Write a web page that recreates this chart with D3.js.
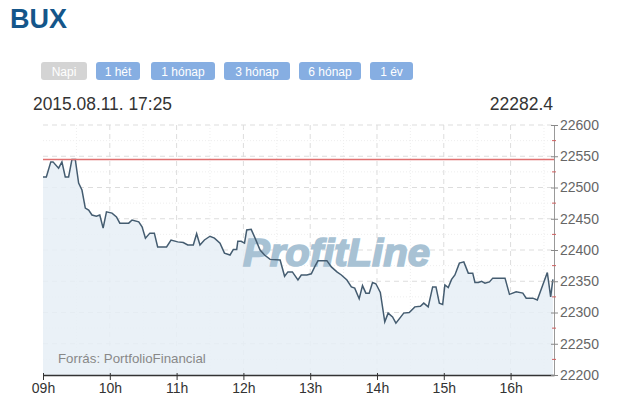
<!DOCTYPE html>
<html>
<head>
<meta charset="utf-8">
<script src="https://cdn.jsdelivr.net/npm/d3@7"></script>
<style>
  body { margin: 0; background: #fff; font-family: Arial, "Liberation Sans", sans-serif; }
  svg { display: block; }
</style>
</head>
<body>
<svg id="chart" width="621" height="413"></svg>
<script>
// Adatok
var times = ['09:00','09:03','09:07','09:09','09:14','09:17','09:20','09:23','09:26','09:29',
  '09:32','09:35','09:38','09:41','09:44','09:48','09:51','09:54','09:57','10:02',
  '10:06','10:09','10:17','10:20','10:26','10:29','10:32','10:36','10:40','10:43',
  '10:51','10:55','11:01','11:06','11:10','11:15','11:18','11:21','11:25','11:30',
  '11:34','11:39','11:43','11:48','11:51','11:54','11:55','11:58','12:01','12:03',
  '12:07','12:10','12:15','12:19','12:24','12:33','12:37','12:40','12:44','12:49',
  '12:52','12:57','13:01','13:04','13:07','13:15','13:19','13:24','13:28','13:33',
  '13:37','13:40','13:44','13:47','13:50','13:53','13:56','13:59','14:03','14:07',
  '14:10','14:14','14:17','14:24','14:29','14:34','14:39','14:42','14:46','14:50',
  '14:53','14:56','14:59','15:01','15:04','15:07','15:10','15:14','15:18','15:22',
  '15:26','15:28','15:31','15:34','15:37','15:41','15:44','15:55','15:59','16:05',
  '16:11','16:14','16:20','16:24','16:33','16:36','16:38']
var values = [22517,22517,22541,22541,22531,22541,22517,22517,22545,22545,
  22507,22496,22467,22464,22456,22454,22456,22435,22461,22459,
  22453,22443,22443,22448,22445,22437,22419,22427,22427,22405,
  22405,22416,22413,22412,22408,22408,22426,22408,22416,22422,
  22419,22411,22395,22392,22401,22401,22414,22414,22411,22432,
  22433,22421,22400,22392,22385,22384,22358,22365,22365,22352,
  22360,22360,22362,22373,22383,22383,22373,22365,22360,22352,
  22341,22339,22322,22343,22331,22331,22348,22346,22332,22285,
  22299,22293,22283,22299,22300,22309,22310,22315,22309,22341,
  22341,22315,22313,22344,22340,22353,22360,22379,22381,22363,
  22363,22348,22348,22350,22347,22349,22355,22355,22329,22333,
  22331,22323,22323,22320,22364,22325,22353]
var elozoZaro = 22545
var yTicks = [22200,22250,22300,22350,22400,22450,22500,22550,22600]
var gombok = ['Napi','1 hét','1 hónap','3 hónap','6 hónap','1 év']
var datum = '2015.08.11. 17:25'
var utolso = '22282.4'

var parseTime = d3.timeParse('%Y-%m-%d %H:%M')
var data = times.map(function(t, i) { return { t: parseTime('2015-08-11 ' + t), v: values[i] } })

var svg = d3.select('#chart')

// Cim
svg.append('text').attr('x', 10).attr('y', 28)
  .attr('font-size', '27px').attr('font-weight', 'bold').attr('fill', '#14568a')
  .text('BUX')

// Gombok
var gombX = [41, 96, 151, 224, 299, 370]
var gombW = [46, 44, 64, 66, 62, 43]
gombok.forEach(function(g, i) {
  var gg = svg.append('g').attr('transform', 'translate(' + gombX[i] + ',62)')
  gg.append('rect').attr('width', gombW[i]).attr('height', 18).attr('rx', 3)
    .attr('fill', i === 0 ? '#d4d4d4' : '#86aee2')
  gg.append('text').attr('x', gombW[i] / 2).attr('y', 13.5).attr('text-anchor', 'middle')
    .attr('font-size', '12px').attr('fill', '#fff').text(g)
})

// Datum es utolso ertek
svg.append('text').attr('x', 33).attr('y', 110).attr('font-size', '18px').attr('fill', '#333')
  .attr('textLength', 139).attr('lengthAdjust', 'spacingAndGlyphs').text(datum)
svg.append('text').attr('x', 553).attr('y', 110).attr('text-anchor', 'end')
  .attr('font-size', '17.5px').attr('fill', '#333').text(utolso)

// Meretek
var margen = { izq: 43, sup: 125, der: 621 - 554, inf: 413 - 375 }
var ancho = 621 - margen.izq - margen.der
var alto = 413 - margen.sup - margen.inf

var x = d3.scaleTime()
  .domain([parseTime('2015-08-11 09:00'), parseTime('2015-08-11 16:39')])
  .range([0, ancho])
var y = d3.scaleLinear().domain([22200, 22600]).range([alto, 0])

var g = svg.append('g').attr('transform', 'translate(' + margen.izq + ',' + margen.sup + ')')

// Racsvonalak
var minorY = d3.range(22225, 22600, 50)
g.selectAll('.gyMinor').data(minorY).enter().append('line')
  .attr('x1', 0).attr('x2', ancho).attr('y1', d => y(d)).attr('y2', d => y(d))
  .attr('stroke', '#eeeeee').attr('stroke-dasharray', '1,2')
g.selectAll('.gy').data(yTicks.slice(1)).enter().append('line')
  .attr('x1', 0).attr('x2', ancho).attr('y1', d => y(d)).attr('y2', d => y(d))
  .attr('stroke', '#dddddd').attr('stroke-dasharray', '5,4')
var hourTicks = x.ticks(d3.timeHour.every(1))
var halfTicks = x.ticks(d3.timeMinute.every(30)).filter(d => d.getMinutes() === 30)
g.selectAll('.gxMinor').data(halfTicks).enter().append('line')
  .attr('x1', d => x(d)).attr('x2', d => x(d)).attr('y1', 0).attr('y2', alto)
  .attr('stroke', '#eeeeee').attr('stroke-dasharray', '1,2')
g.selectAll('.gx').data(hourTicks.slice(1)).enter().append('line')
  .attr('x1', d => x(d)).attr('x2', d => x(d)).attr('y1', 0).attr('y2', alto)
  .attr('stroke', '#dddddd').attr('stroke-dasharray', '5,4')

// Terulet es vonal
var area = d3.area().x(d => x(d.t)).y0(alto).y1(d => y(d.v))
var line = d3.line().x(d => x(d.t)).y(d => y(d.v))
g.append('path').datum(data).attr('d', area).attr('fill', '#e6eef6').attr('fill-opacity', 0.85)

// Vizjel
g.append('text').attr('x', 200).attr('y', 141)
  .attr('font-size', '38px').attr('font-weight', 'bold').attr('font-style', 'italic')
  .attr('fill', '#a8c2d4').attr('stroke', '#a8c2d4').attr('stroke-width', 1.6)
  .attr('textLength', 187).attr('lengthAdjust', 'spacingAndGlyphs')
  .text('ProfitLine')

g.append('path').datum(data).attr('d', line)
  .attr('fill', 'none').attr('stroke', '#445c70').attr('stroke-width', 1.5)

// Elozo zaro
g.append('line').attr('x1', 0).attr('x2', ancho).attr('y1', y(elozoZaro)).attr('y2', y(elozoZaro))
  .attr('stroke', '#e07070').attr('stroke-width', 1.5)

// Forras
g.append('text').attr('x', 15).attr('y', 238).attr('font-size', '13.3px').attr('fill', '#888')
  .text('Forrás: PortfolioFinancial')

// Tengelyek
var xAxis = g.append('g').attr('transform', 'translate(0,' + alto + ')')
  .call(d3.axisBottom(x).tickValues(hourTicks).tickFormat(d3.timeFormat('%Hh')).tickSize(5).tickSizeOuter(0))
xAxis.select('.domain').attr('stroke', '#333').attr('stroke-width', 1.5)
xAxis.selectAll('.tick line').attr('stroke', '#333').attr('y1', -2)
xAxis.selectAll('.tick text').attr('font-size', '14px').attr('fill', '#333').attr('dy', '0.75em').attr('y', 7)
  .attr('font-family', 'Arial, "Liberation Sans", sans-serif')

var yAxis = g.append('g').attr('transform', 'translate(' + ancho + ',0)')
  .call(d3.axisRight(y).tickValues(yTicks).tickFormat(d3.format('d')).tickSize(4).tickSizeOuter(0))
yAxis.select('.domain').attr('stroke', '#999')
yAxis.selectAll('.tick line').attr('stroke', '#888').attr('x1', -3)
yAxis.selectAll('.tick text').attr('font-size', '14px').attr('fill', '#666').attr('x', 6)
  .attr('font-family', 'Arial, "Liberation Sans", sans-serif')
var minorT = d3.range(22225, 22600, 50)
yAxis.selectAll('.mt').data(minorT).enter().append('line')
  .attr('x1', -2).attr('x2', 2).attr('y1', d => y(d)).attr('y2', d => y(d))
  .attr('stroke', '#d06060')
</script>
</body>
</html>
